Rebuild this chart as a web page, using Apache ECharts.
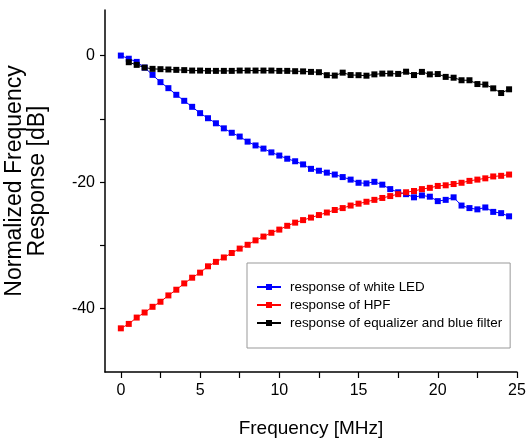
<!DOCTYPE html>
<html>
<head>
<meta charset="utf-8">
<script src="https://cdn.jsdelivr.net/npm/echarts@6/dist/echarts.min.js"></script>
<style>
  html, body { margin: 0; padding: 0; background: #fff; }
  #chart { width: 528px; height: 440px; }
</style>
</head>
<body>
<div id="chart"></div>
<script>
var freq = [0, 0.5, 1, 1.5, 2, 2.5, 3, 3.5, 4, 4.5, 5, 5.5, 6, 6.5, 7, 7.5, 8, 8.5, 9, 9.5,
    10, 10.5, 11, 11.5, 12, 12.5, 13, 13.5, 14, 14.5, 15, 15.5, 16, 16.5, 17, 17.5, 18, 18.5, 19, 19.5,
    20, 20.5, 21, 21.5, 22, 22.5, 23, 23.5, 24, 24.5];
var freqEq = freq.slice(1);

var ledResp = [0, -0.5, -1.0, -1.9, -3.05, -4.2, -5.15, -6.2, -7.15, -8.1,
    -9.1, -9.9, -10.7, -11.5, -12.2, -12.8, -13.6, -14.2, -14.7, -15.3,
    -15.8, -16.3, -16.7, -17.2, -17.9, -18.2, -18.5, -18.8, -19.2, -19.6,
    -20.1, -20.2, -19.95, -20.4, -21.1, -21.6, -21.9, -22.4, -22.1, -22.3,
    -23.0, -22.8, -22.4, -23.7, -24.1, -24.3, -24.0, -24.7, -24.9, -25.4];

var hpfResp = [-43.1, -42.4, -41.4, -40.6, -39.7, -38.9, -37.9, -37.0, -36.0, -35.1,
    -34.3, -33.3, -32.6, -31.9, -31.2, -30.5, -29.9, -29.2, -28.6, -28.0,
    -27.5, -26.9, -26.4, -26.0, -25.6, -25.2, -24.8, -24.4, -24.1, -23.7,
    -23.4, -23.1, -22.8, -22.5, -22.2, -21.9, -21.6, -21.4, -21.1, -20.9,
    -20.6, -20.5, -20.3, -20.1, -19.8, -19.6, -19.4, -19.1, -19.0, -18.8];

var eqResp = [-1.05, -1.47, -1.9, -2.1, -2.15, -2.2, -2.26, -2.3, -2.37, -2.37,
    -2.42, -2.42, -2.42, -2.42, -2.37, -2.37, -2.37, -2.37, -2.37, -2.42,
    -2.42, -2.47, -2.5, -2.58, -2.63, -3.1, -3.16, -2.7, -3.08, -3.1,
    -3.18, -2.97, -2.85, -2.84, -2.9, -2.55, -3.08, -2.58, -2.97, -2.92,
    -3.37, -3.5, -3.9, -3.9, -4.5, -4.58, -5.18, -5.92, -5.33];

var seriesNames = ['response of white LED', 'response of HPF', 'response of equalizer and blue filter'];
var xTicks = [0, 2.5, 5, 7.5, 10, 12.5, 15, 17.5, 20, 22.5, 25];
var xLabels = [0, 5, 10, 15, 20, 25];
var yTicks = [0, -10, -20, -30, -40];
var yLabels = [0, -20, -40];

var font = 'Arial, "Liberation Sans", sans-serif';

function pairs(xs, ys) {
    return xs.map(function (x, i) { return [x, ys[i]]; });
}

function makeSeries(name, color, data) {
    return {
        name: name,
        type: 'line',
        data: data,
        symbol: 'rect',
        symbolSize: 6,
        color: color,
        lineStyle: {color: color, width: 1},
        itemStyle: {color: color},
        animation: false
    };
}

var myChart = echarts.init(document.getElementById('chart'));

var option = {
    backgroundColor: '#fff',
    grid: {left: 105, right: 11, top: 10, bottom: 68, containLabel: false, outerBoundsMode: 'none'},
    legend: {
        left: 247,
        top: 263,
        orient: 'vertical',
        data: seriesNames,
        itemWidth: 24,
        itemHeight: 7.5,
        itemGap: 2,
        padding: [16, 8, 17, 9],
        borderColor: '#999',
        borderWidth: 1,
        lineStyle: {width: 2},
        textStyle: {fontFamily: font, fontSize: 13.4, lineHeight: 16, color: '#000', padding: [0, 0, 0, 4]}
    },
    xAxis: {
        type: 'value',
        min: -1,
        max: 25,
        name: 'Frequency [MHz]',
        nameLocation: 'middle',
        nameGap: 47,
        nameTextStyle: {fontFamily: font, fontSize: 19, color: '#000'},
        axisLine: {onZero: false, lineStyle: {color: '#000', width: 1.5}},
        axisTick: {customValues: xTicks, length: 6, lineStyle: {color: '#000', width: 1.2}},
        axisLabel: {customValues: xLabels, margin: 11, fontFamily: font, fontSize: 16, color: '#000'},
        splitLine: {show: false}
    },
    yAxis: {
        type: 'value',
        min: -50,
        max: 7.2,
        name: 'Normalized Frequency\nResponse [dB]',
        nameLocation: 'middle',
        nameRotate: 90,
        nameGap: 56,
        nameTextStyle: {fontFamily: font, fontSize: 23, color: '#000', lineHeight: 23, padding: [0, 0, 0, 20]},
        axisLine: {onZero: false, lineStyle: {color: '#000', width: 1.5}},
        axisTick: {customValues: yTicks, length: 5, lineStyle: {color: '#000', width: 1.2}},
        axisLabel: {customValues: yLabels, margin: 10, fontFamily: font, fontSize: 16, color: '#000'},
        splitLine: {show: false}
    },
    series: [
        makeSeries(seriesNames[0], '#0000ff', pairs(freq, ledResp)),
        makeSeries(seriesNames[1], '#ff0000', pairs(freq, hpfResp)),
        makeSeries(seriesNames[2], '#000000', pairs(freqEq, eqResp))
    ]
};

myChart.setOption(option);
</script>
</body>
</html>
